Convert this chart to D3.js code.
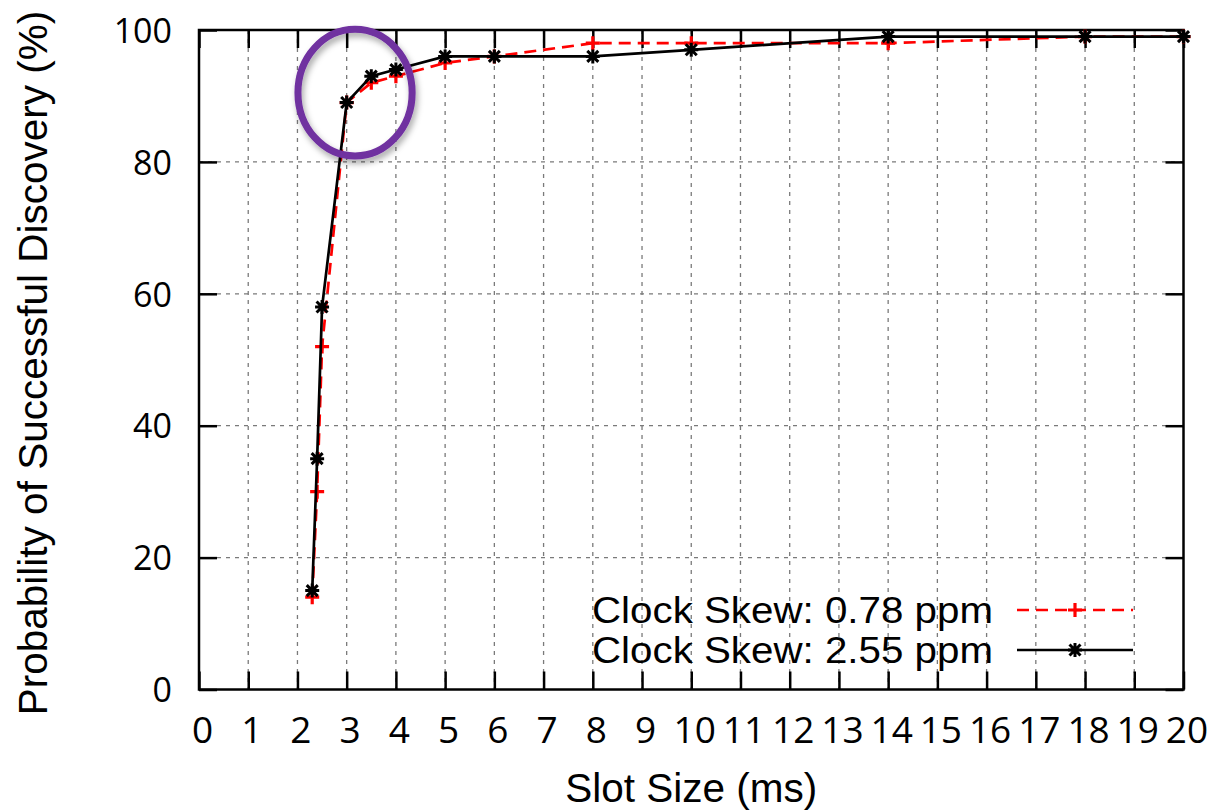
<!DOCTYPE html>
<html>
<head>
<meta charset="utf-8">
<script src="https://cdn.jsdelivr.net/npm/d3@7"></script>
<style>
  body { margin: 0; background: #fff; }
  svg { display: block; }
</style>
</head>
<body>
<div id="viz"></div>
<script>
// slot sizes (ms) and discovery probabilities (%)
const slotSize = [2.3, 2.4, 2.5, 3, 3.5, 4, 5, 6, 8, 10, 14, 18, 20];
const skew078 = [14, 30, 52, 89, 92, 93, 95, 96, 98, 98, 98, 99, 99];
const skew255 = [15, 35, 58, 89, 93, 94, 96, 96, 96, 97, 99, 99, 99];
const seriesNames = ["Clock Skew: 0.78 ppm", "Clock Skew: 2.55 ppm"];
const xTicks = d3.range(0, 21);
const yTicks = [0, 20, 40, 60, 80, 100];

const width = 1216,
    height = 812,
    plotLeft = 199,
    plotRight = 1183.5,
    plotTop = 30,
    plotBottom = 689.5,
    tickLen = 18;

const x = d3.scaleLinear().domain([0, 20]).range([plotLeft, plotRight]);
const y = d3.scaleLinear().domain([0, 100]).range([plotBottom, plotTop]);

const svg = d3.select("#viz").append("svg")
    .attr("width", width)
    .attr("height", height);

const defs = svg.append("defs");
defs.append("filter")
    .attr("id", "shadow")
    .attr("x", "-30%").attr("y", "-30%")
    .attr("width", "160%").attr("height", "160%")
    .append("feDropShadow")
    .attr("dx", 2).attr("dy", 4)
    .attr("stdDeviation", 3)
    .attr("flood-color", "#000")
    .attr("flood-opacity", 0.35);

// grid
svg.append("g")
    .selectAll("line")
    .data(xTicks.filter(function (d) { return d > 0 && d < 20; }))
    .enter().append("line")
    .attr("x1", function (d) { return x(d); })
    .attr("x2", function (d) { return x(d); })
    .attr("y1", plotTop)
    .attr("y2", plotBottom)
    .attr("stroke", "#7a7a7a")
    .attr("stroke-width", 1.3)
    .attr("stroke-dasharray", "4,5");

svg.append("g")
    .selectAll("line")
    .data(yTicks.filter(function (d) { return d > 0 && d < 100; }))
    .enter().append("line")
    .attr("x1", plotLeft)
    .attr("x2", plotRight)
    .attr("y1", function (d) { return y(d); })
    .attr("y2", function (d) { return y(d); })
    .attr("stroke", "#7a7a7a")
    .attr("stroke-width", 1.3)
    .attr("stroke-dasharray", "4,5");

// axes, ticks pointing inward and mirrored
const xAxis = svg.append("g")
    .attr("transform", "translate(0," + plotBottom + ")")
    .call(d3.axisBottom(x).tickValues(xTicks).tickSize(-tickLen).tickSizeOuter(0));
xAxis.select(".domain").remove();
xAxis.selectAll("line").attr("stroke", "#000").attr("stroke-width", 2.5);
xAxis.selectAll("text")
    .attr("y", 0)
    .attr("dy", 53.5)
    .attr("dx", 3)
    .attr("fill", "#000")
    .style("font-family", "'Open Sans', sans-serif")
    .style("font-size", "37px");

const yAxis = svg.append("g")
    .attr("transform", "translate(" + plotLeft + ",0)")
    .call(d3.axisLeft(y).tickValues(yTicks).tickSize(-tickLen).tickSizeOuter(0));
yAxis.select(".domain").remove();
yAxis.selectAll("line").attr("stroke", "#000").attr("stroke-width", 2.5);
yAxis.selectAll("text")
    .attr("x", -27)
    .attr("dy", "0.36em")
    .attr("fill", "#000")
    .style("font-family", "'Open Sans', sans-serif")
    .style("font-size", "34px");

const topAxis = svg.append("g")
    .attr("transform", "translate(0," + plotTop + ")")
    .call(d3.axisTop(x).tickValues(xTicks).tickSize(-tickLen).tickSizeOuter(0).tickFormat(""));
topAxis.select(".domain").remove();
topAxis.selectAll("line").attr("stroke", "#000").attr("stroke-width", 2.5);

const rightAxis = svg.append("g")
    .attr("transform", "translate(" + plotRight + ",0)")
    .call(d3.axisRight(y).tickValues(yTicks).tickSize(-tickLen).tickSizeOuter(0).tickFormat(""));
rightAxis.select(".domain").remove();
rightAxis.selectAll("line").attr("stroke", "#000").attr("stroke-width", 2.5);

svg.append("rect")
    .attr("x", plotLeft)
    .attr("y", plotTop)
    .attr("width", plotRight - plotLeft)
    .attr("height", plotBottom - plotTop)
    .attr("fill", "none")
    .attr("stroke", "#000")
    .attr("stroke-width", 2.5);

// axis titles
svg.append("text")
    .attr("x", (plotLeft + plotRight) / 2)
    .attr("y", 802)
    .attr("text-anchor", "middle")
    .style("font-family", "'Liberation Sans', Arial, sans-serif")
    .style("font-size", "40.5px")
    .text("Slot Size (ms)");

svg.append("text")
    .attr("transform", "translate(47," + 363 + ") rotate(-90)")
    .attr("text-anchor", "middle")
    .style("font-family", "'Liberation Sans', Arial, sans-serif")
    .style("font-size", "40.5px")
    .text("Probability of Successful Discovery (%)");

// series
const plusPath = "M-7,0H7M0,-7V7";
const starPath = "M-7,0H7M0,-7V7M-5.5,-5.5L5.5,5.5M-5.5,5.5L5.5,-5.5";

const line = d3.line()
    .x(function (d) { return x(d[0]); })
    .y(function (d) { return y(d[1]); });

const series = [
    { name: seriesNames[0], values: d3.zip(slotSize, skew078), color: "#ff0000", dash: "12,7", marker: plusPath, mw: 3.2 },
    { name: seriesNames[1], values: d3.zip(slotSize, skew255), color: "#000000", dash: null, marker: starPath, mw: 3 }
];

series.forEach(function (s) {
    svg.append("path")
        .datum(s.values)
        .attr("d", line)
        .attr("fill", "none")
        .attr("stroke", s.color)
        .attr("stroke-width", 2.7)
        .attr("stroke-dasharray", s.dash);

    svg.append("g")
        .selectAll("path")
        .data(s.values)
        .enter().append("path")
        .attr("transform", function (d) { return "translate(" + x(d[0]) + "," + y(d[1]) + ")"; })
        .attr("d", s.marker)
        .attr("stroke", s.color)
        .attr("stroke-width", s.mw)
        .attr("fill", "none");
});

// legend (text stretched a little, like the original)
const legend = svg.append("g");
series.forEach(function (s, i) {
    const ly = 610 + i * 40;
    legend.append("text")
        .attr("x", 993)
        .attr("y", ly + 13)
        .attr("text-anchor", "end")
        .attr("textLength", 401)
        .attr("lengthAdjust", "spacingAndGlyphs")
        .style("font-family", "'Liberation Sans', Arial, sans-serif")
        .style("font-size", "37px")
        .text(s.name);
    legend.append("line")
        .attr("x1", 1017)
        .attr("x2", 1133)
        .attr("y1", ly)
        .attr("y2", ly)
        .attr("stroke", s.color)
        .attr("stroke-width", 2.7)
        .attr("stroke-dasharray", s.dash);
    legend.append("path")
        .attr("transform", "translate(1075," + ly + ")")
        .attr("d", s.marker)
        .attr("stroke", s.color)
        .attr("stroke-width", s.mw)
        .attr("fill", "none");
});

// highlight ring around the knee of the curves
svg.append("ellipse")
    .attr("cx", x(3.17))
    .attr("cy", y(90.5))
    .attr("rx", x(3.17 + 1.16) - x(3.17))
    .attr("ry", y(90.5) - y(90.5 + 9.6))
    .attr("fill", "none")
    .attr("stroke", "#7030a0")
    .attr("stroke-width", 7)
    .attr("filter", "url(#shadow)");
</script>
</body>
</html>
